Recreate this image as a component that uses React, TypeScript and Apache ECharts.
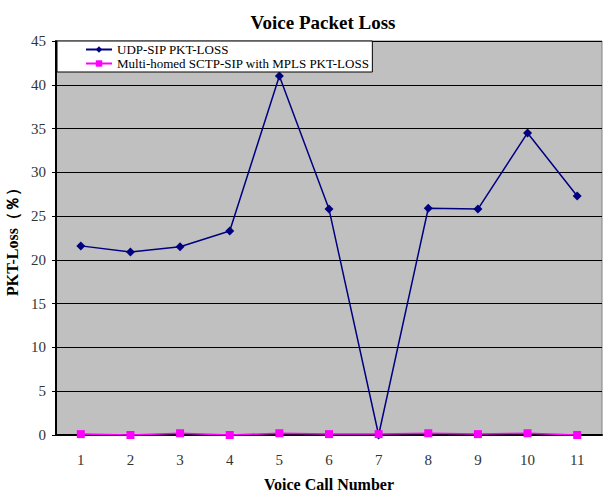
import React, { useEffect, useRef } from "react";
import * as echarts from "echarts";

const categories = ["1", "2", "3", "4", "5", "6", "7", "8", "9", "10", "11"];
const udpLoss = [21.6, 20.9, 21.5, 23.3, 41.0, 25.8, 0.0, 25.9, 25.8, 34.5, 27.3];
const sctpLoss = [0.1, 0.0, 0.2, 0.0, 0.2, 0.1, 0.1, 0.2, 0.1, 0.2, 0.0];
const seriesNames = ["UDP-SIP PKT-LOSS", "Multi-homed SCTP-SIP with MPLS PKT-LOSS"];

const FONT = "'Liberation Serif', 'Times New Roman', serif";

export default function App() {
  const ref = useRef<HTMLDivElement>(null);
  useEffect(() => {
    if (!ref.current) return;
    const chart = echarts.init(ref.current, undefined, { renderer: "svg" });
    chart.setOption({
      animation: false,
      backgroundColor: "#ffffff",
      title: {
        text: "Voice Packet Loss",
        left: 318,
        textAlign: "center",
        top: 8,
        textStyle: { fontFamily: FONT, fontWeight: "bold", fontSize: 19, color: "#000" },
      },
      legend: {
        orient: "vertical",
        left: 57,
        top: 41,
        backgroundColor: "#ffffff",
        borderColor: "#000",
        borderWidth: 1,
        borderRadius: 0,
        padding: [2, 3, 2, 28],
        itemGap: 1,
        itemWidth: 26,
        itemHeight: 8,
        textStyle: { fontFamily: FONT, fontSize: 13, color: "#000" },
        data: seriesNames,
      },
      grid: {
        left: 56,
        right: 1,
        top: 41,
        bottom: 58,
        outerBoundsMode: "none",
        containLabel: false,
        show: true,
        backgroundColor: "#C0C0C0",
        borderColor: "#808080",
        borderWidth: 1,
      },
      xAxis: {
        type: "category",
        data: categories,
        boundaryGap: true,
        name: "Voice Call Number",
        nameLocation: "middle",
        nameGap: 41,
        nameTextStyle: { fontFamily: FONT, fontWeight: "bold", fontSize: 16, color: "#000" },
        axisLine: { lineStyle: { color: "#000", width: 2 } },
        axisTick: { inside: true, length: 5, lineStyle: { color: "#000" } },
        axisLabel: { fontFamily: FONT, fontSize: 15, color: "#333", margin: 17 },
        splitLine: { show: false },
      },
      yAxis: {
        type: "value",
        min: 0,
        max: 45,
        interval: 5,
        name: "PKT-Loss（％）",
        nameLocation: "middle",
        nameGap: 34,
        nameTextStyle: { fontFamily: FONT, fontWeight: "bold", fontSize: 16, color: "#000" },
        axisLine: { show: true, lineStyle: { color: "#000", width: 2 } },
        axisTick: { show: true, length: 4, lineStyle: { color: "#000" } },
        axisLabel: { fontFamily: FONT, fontSize: 15, color: "#333", margin: 10 },
        splitLine: { show: true, lineStyle: { color: "#000", width: 1.2 } },
      },
      series: [
        {
          name: seriesNames[0],
          type: "line",
          data: udpLoss,
          symbol: "diamond",
          symbolSize: 9,
          lineStyle: { color: "#000080", width: 1.5 },
          itemStyle: { color: "#000080" },
        },
        {
          name: seriesNames[1],
          type: "line",
          data: sctpLoss,
          symbol: "rect",
          symbolSize: 8,
          lineStyle: { color: "#FF00FF", width: 1.5 },
          itemStyle: { color: "#FF00FF" },
        },
      ],
    });
    return () => chart.dispose();
  }, []);
  return (
    <div
      ref={ref}
      style={{ position: "fixed", left: 0, top: 0, width: 603, height: 493 }}
    />
  );
}
